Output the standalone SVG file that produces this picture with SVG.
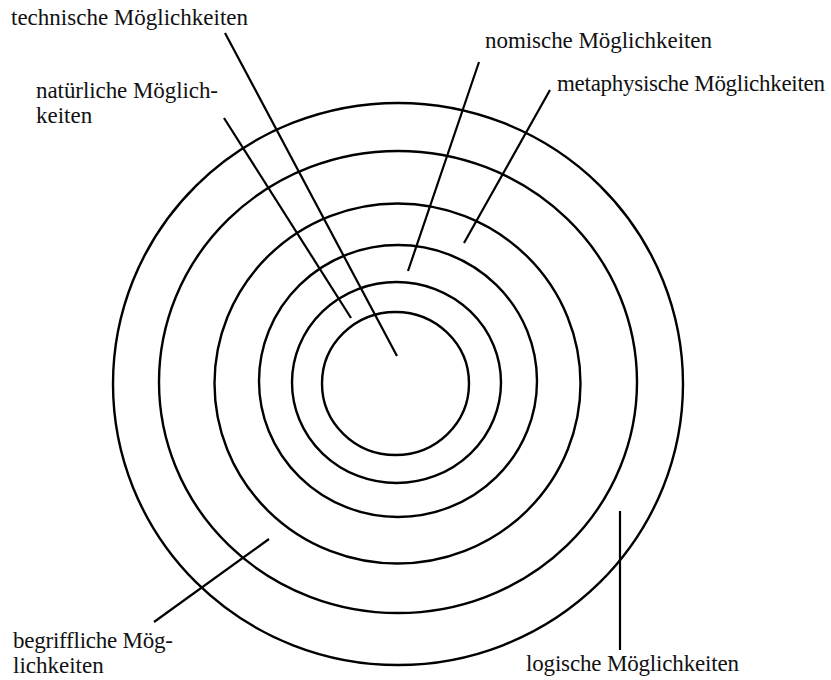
<svg xmlns="http://www.w3.org/2000/svg" width="831" height="680" viewBox="0 0 831 680">
<style>
.ring{fill:none;stroke:#000;stroke-width:2.4}
.conn line{stroke:#000;stroke-width:2.2;stroke-linecap:butt}
text{font-family:"Liberation Serif","Times New Roman",serif;font-size:23px;fill:#111}
</style>
<rect width="831" height="680" fill="#fff"/>
<g id="logisch"><ellipse class="ring" cx="398" cy="384" rx="285" ry="281"/></g>
<g id="begrifflich"><ellipse class="ring" cx="398" cy="382" rx="239" ry="231"/></g>
<g id="metaphysisch"><ellipse class="ring" cx="397.5" cy="383.5" rx="183" ry="180"/></g>
<g id="nomisch"><ellipse class="ring" cx="398" cy="381" rx="139" ry="136"/></g>
<g id="natuerlich"><ellipse class="ring" cx="396.5" cy="382.5" rx="104.5" ry="100.5"/></g>
<g id="technisch"><ellipse class="ring" cx="395.5" cy="383.5" rx="73.5" ry="71.5"/></g>
<g class="conn" id="connectors">
<line x1="225" y1="33" x2="397" y2="356"/>
<line x1="224" y1="118" x2="351" y2="318"/>
<line x1="479" y1="62" x2="408" y2="271"/>
<line x1="550" y1="90" x2="464" y2="243"/>
<line x1="154" y1="622" x2="269" y2="539"/>
<line x1="620" y1="511" x2="620" y2="650"/>
</g>
<g id="labels">
<text x="11" y="25" textLength="237" lengthAdjust="spacing">technische Möglichkeiten</text>
<text x="485" y="48" textLength="227" lengthAdjust="spacing">nomische Möglichkeiten</text>
<text x="557" y="91" textLength="268" lengthAdjust="spacing">metaphysische Möglichkeiten</text>
<text x="36" y="98" textLength="182" lengthAdjust="spacing">natürliche Möglich-</text>
<text x="36" y="123">keiten</text>
<text x="13" y="648" textLength="160" lengthAdjust="spacing">begriffliche Mög-</text>
<text x="13" y="673">lichkeiten</text>
<text x="526" y="671" textLength="213" lengthAdjust="spacing">logische Möglichkeiten</text>
</g>
</svg>
